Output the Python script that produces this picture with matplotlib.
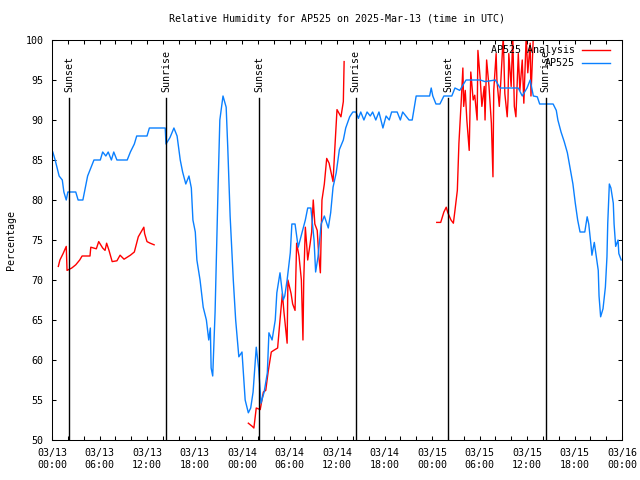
import matplotlib
matplotlib.use("Agg")
import matplotlib.pyplot as plt
import matplotlib.dates as mdates
import numpy as np
import pandas as pd

# hours since 2025-03-13 00:00 UTC
obs_hours = [0.1, 0.4, 0.9, 1.3, 1.5, 1.8, 2.0, 3.0, 3.3, 3.9, 4.2, 4.5, 4.9, 5.3, 6.1,
             6.4, 6.8, 7.1, 7.5, 7.8, 8.2, 8.6, 9.5, 9.9, 10.4, 10.7, 12.0, 12.3, 14.3,
             14.4, 14.9, 15.4, 15.8, 16.2, 16.5, 16.9, 17.3, 17.6, 17.8, 18.1, 18.3, 18.7,
             19.1, 19.5, 19.8, 20.0, 20.1, 20.3, 20.6, 21.0, 21.2, 21.6, 22.0, 22.2, 22.5,
             22.9, 23.2, 23.6, 24.0, 24.4, 24.8, 25.1, 25.4, 25.8, 26.1, 26.4, 26.8, 27.2,
             27.4, 27.8, 28.2, 28.4, 28.8, 29.2, 29.4, 29.7, 30.1, 30.3, 30.7, 31.1, 31.6,
             32.0, 32.3, 32.7, 33.1, 33.3, 33.6, 34.0, 34.4, 34.9, 35.2, 35.5, 35.9, 36.3,
             36.8, 37.1, 37.6, 38.0, 38.4, 38.7, 39.0, 39.4, 39.8, 40.2, 40.5, 40.9, 41.3,
             41.8, 42.2, 42.6, 42.9, 43.6, 44.0, 44.3, 44.7, 45.1, 45.5, 46.0, 47.7, 47.9,
             48.1, 48.5, 49.0, 49.5, 50.5, 50.9, 51.5, 52.3, 54.1, 54.7, 56.0, 56.6, 57.9,
             58.9, 59.4, 60.0, 60.4, 60.8, 61.3, 61.6, 63.3, 63.7, 63.9, 64.3, 64.7, 65.1,
             65.4, 65.8, 66.1, 66.4, 66.7, 67.3, 67.6, 67.8, 68.1, 68.2, 68.5, 68.7, 69.0,
             69.1, 69.3, 69.6, 69.9, 70.1, 70.2, 70.4, 70.6, 70.9, 71.0, 71.2, 71.5, 71.6,
             71.9]
obs_rh = [86, 85, 83, 82.5, 81, 80, 81, 81, 80, 80, 81.5, 83, 84, 85, 85,
          86, 85.5, 86, 85, 86, 85, 85, 85, 86, 87, 88, 88, 89, 89,
          87, 87.8, 89, 88, 85, 83.5, 82, 83, 81.5, 77.5, 76, 72.5, 70,
          66.6, 65, 62.5, 64, 59, 58, 66, 82.5, 90, 93, 91.6, 86.6, 78,
          70, 65, 60.4, 61, 55, 53.4, 54, 56, 61.6, 59, 54.6, 56, 58.4,
          63.4, 62.5, 65, 68.4, 70.9, 67.5, 68, 70, 73.4, 77, 77, 74.1, 76,
          77.5, 79, 79, 75, 71, 72.9, 77, 78, 76.5, 78.4, 81.6, 83.4, 86.3,
          87.5, 89, 90.4, 91, 91, 90.2, 91, 90, 91, 90.5, 91, 90, 91,
          89, 90.5, 90, 91, 91, 90, 91, 90.5, 90, 90, 93, 93, 94,
          93, 92, 92, 93, 93, 94, 93.7, 95, 95, 94.8, 95, 94, 94,
          94, 93, 94, 95, 93, 92.9, 92, 92, 91.2, 90, 88.5, 87.3, 85.9,
          84.2, 82, 79.6, 77.5, 76, 76, 77.9, 77, 74.2, 73.1, 74.7, 73.3, 71.2,
          68, 65.4, 66.4, 69.1, 72.9, 77.1, 82, 81.5, 79.6, 77, 74.2, 75, 73.3,
          72.5]

# analysis series comes in three separate runs
ana1_hours = [0.8, 1.0, 1.4, 1.8, 1.9, 2.5, 3.0, 3.5, 3.8, 4.8, 4.9, 5.6, 5.9, 6.4, 6.7,
              6.9, 7.2, 7.6, 8.2, 8.6, 9.1, 9.9, 10.4, 10.9, 11.6, 11.7, 12.0, 12.4, 12.9]
ana1_rh = [71.7, 72.5, 73.3, 74.2, 71.2, 71.5, 71.9, 72.5, 73, 73, 74.1, 73.9, 74.8, 74, 73.7,
           74.6, 73.7, 72.3, 72.4, 73.1, 72.6, 73.1, 73.5, 75.4, 76.6, 75.8, 74.8, 74.6, 74.4]

ana2_hours = [24.8, 25.3, 25.5, 25.8, 26.3, 26.7, 27.0, 27.3, 27.7, 28.0, 28.5, 28.8, 29.1,
              29.3, 29.7, 29.8, 30.2, 30.4, 30.7, 30.8, 30.9, 31.2, 31.5, 31.7, 31.8, 32.0,
              32.2, 32.3, 32.6, 32.8, 33.0, 33.2, 33.5, 33.7, 33.9, 34.1, 34.4, 34.7, 35.0,
              35.5, 35.7, 36.0, 36.5, 36.8, 36.9]
ana2_rh = [52.1, 51.7, 51.5, 54, 53.8, 56, 56.2, 58.5, 61, 61.2, 61.5, 65, 68.3,
           66, 62.1, 70, 68.3, 67, 66.2, 70.5, 74.6, 73, 70, 62.5, 70, 76.6,
           74, 72.5, 74.5, 76, 80, 77, 76.2, 73, 70.9, 80, 82, 85.2, 84.6,
           82.3, 86, 91.3, 90.4, 92.3, 97.3]

ana3_hours = [48.6, 49.1, 49.5, 49.8, 50.0, 50.4, 50.7, 50.9, 51.2, 51.4, 51.7, 51.9, 52.0,
              52.2, 52.4, 52.7, 52.9, 53.2, 53.4, 53.7, 53.8, 54.1, 54.3, 54.6, 54.7, 54.9,
              55.2, 55.5, 55.7, 55.8, 56.1, 56.2, 56.5, 56.7, 57.0, 57.2, 57.5, 57.6, 57.7,
              58.0, 58.2, 58.4, 58.6, 58.9, 59.1, 59.4, 59.6, 59.9, 60.1, 60.4, 60.5, 60.8]
ana3_rh = [77.2, 77.2, 78.5, 79.1, 78.4, 77.5, 77.1, 78.7, 81.2, 87.1, 92.5, 96.5, 91.7,
           93.7, 90, 86.2, 96, 92.5, 93.1, 90, 98.7, 95, 91.7, 94.2, 90, 97.5,
           94.2, 89.6, 82.9, 93.7, 98.3, 95, 91.7, 95, 100.5, 93.3, 90.4, 92.5, 98.3,
           94.2, 100.5, 91.7, 90.4, 98.3, 93.7, 97.5, 92.1, 100.5, 95.9, 99.6, 93, 100.5]

sunset_hours = [2.18, 26.18, 50.05]
sunrise_hours = [14.4, 38.38, 62.35]

base = pd.Timestamp("2025-03-13 00:00")


def to_time(hours):
    return base + pd.to_timedelta(np.asarray(hours), unit="h")


plt.rcParams["font.family"] = ["DejaVu Sans Mono"]
plt.rcParams["font.size"] = 7.2

fig = plt.figure(figsize=(6.4, 4.8), dpi=100)
ax = fig.add_axes([52 / 640, 40 / 480, 570 / 640, 400 / 480])

red = "#ff0000"
blue = "#0a80ff"

for hrs, vals in [(ana1_hours, ana1_rh), (ana2_hours, ana2_rh), (ana3_hours, ana3_rh)]:
    ax.plot(to_time(hrs), vals, color=red, lw=1.0)
ax.plot(to_time(obs_hours), obs_rh, color=blue, lw=1.0)

for hrs, name in [(sunset_hours, "Sunset"), (sunrise_hours, "Sunrise")]:
    for t in to_time(hrs):
        ax.plot([t, t], [50, 92.75], color="black", lw=1.0)
        ax.text(t, 93.5, name, rotation=90, ha="center", va="bottom")

ax.set_xlim(base, base + pd.Timedelta(hours=72))
ax.set_ylim(50, 100)
ax.set_yticks(np.arange(50, 101, 5))
ax.xaxis.set_major_locator(mdates.HourLocator(byhour=[0, 6, 12, 18]))
ax.xaxis.set_minor_locator(mdates.HourLocator(byhour=range(0, 24, 2)))
ax.xaxis.set_major_formatter(mdates.DateFormatter("%m/%d\n%H:%M"))
ax.tick_params(which="both", direction="in", length=3, width=0.75,
               top=True, right=True, pad=6)
for s in ax.spines.values():
    s.set_linewidth(0.75)

# gnuplot-style key: right-aligned text, sample line after it
tr = ax.transAxes
ax.text(0.9175, 0.975, "AP525 Analysis", ha="right", va="center", transform=tr)
ax.plot([0.93, 0.979], [0.975, 0.975], color=red, lw=1.0, transform=tr)
ax.text(0.9175, 0.9425, "AP525", ha="right", va="center", transform=tr)
ax.plot([0.93, 0.979], [0.9425, 0.9425], color=blue, lw=1.0, transform=tr)

fig.text(337 / 640, 1 - 19 / 480, "Relative Humidity for AP525 on 2025-Mar-13 (time in UTC)",
         ha="center", va="center")
fig.text(11 / 640, 0.5, "Percentage", rotation=90, ha="center", va="center")

fig.savefig("out.png", dpi=100)
